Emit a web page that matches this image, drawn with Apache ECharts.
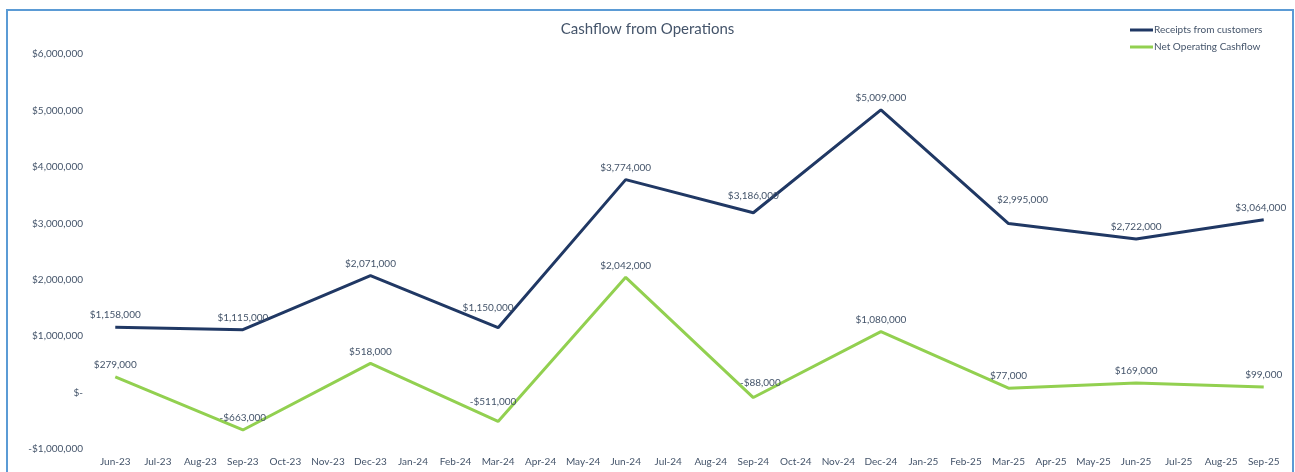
<!DOCTYPE html>
<html>
<head>
<meta charset="utf-8">
<script src="https://cdn.jsdelivr.net/npm/echarts@6/dist/echarts.min.js"></script>
<style>
  html, body { margin: 0; padding: 0; background: #fff; }
  #chart { width: 1295px; height: 472px; }
  .frame {
    position: absolute; left: 6px; top: 9px; width: 1284px; height: 480px;
    border: 2px solid #5B9BD5; pointer-events: none;
  }
</style>
</head>
<body>
<div id="chart"></div>
<div class="frame"></div>
<script>
const months = ['Jun-23','Jul-23','Aug-23','Sep-23','Oct-23','Nov-23','Dec-23','Jan-24','Feb-24','Mar-24','Apr-24','May-24',
  'Jun-24','Jul-24','Aug-24','Sep-24','Oct-24','Nov-24','Dec-24','Jan-25','Feb-25','Mar-25','Apr-25','May-25',
  'Jun-25','Jul-25','Aug-25','Sep-25'];
const receipts = [1158000,null,null,1115000,null,null,2071000,null,null,1150000,null,null,
  3774000,null,null,3186000,null,null,5009000,null,null,2995000,null,null,2722000,null,null,3064000];
const netCashflow = [279000,null,null,-663000,null,null,518000,null,null,-511000,null,null,
  2042000,null,null,-88000,null,null,1080000,null,null,77000,null,null,169000,null,null,99000];

const textColor = '#44546A';
const fontFamily = 'Lato, "Open Sans", sans-serif';

function money(v) {
  if (v === 0) return '$-';
  const s = '$' + Math.abs(v).toLocaleString('en-US');
  return v < 0 ? '-' + s : s;
}

// a few labels were nudged by hand in the original
const receiptsLabelShift = { 9: [-10, -8], 15: [0, -5], 21: [14, -12], 27: [-3, 0] };
const netLabelShift = { 9: [-5, -8], 15: [7, -3] };

function lineSeries(name, values, color, shifts) {
  return {
    name: name,
    type: 'line',
    data: values.map((v, i) => shifts[i] ? { value: v, label: { offset: shifts[i] } } : v),
    connectNulls: true,
    showSymbol: true,
    symbol: 'circle',
    symbolSize: 0.1,
    lineStyle: { width: 3, color: color },
    itemStyle: { color: color },
    label: {
      show: true, position: 'top', distance: 7,
      fontSize: 10, color: textColor,
      formatter: p => money(p.value)
    }
  };
}

let myChart = echarts.init(document.getElementById('chart'));
myChart.setOption({
  animation: false,
  backgroundColor: '#fff',
  textStyle: { fontFamily: fontFamily, color: textColor },
  title: {
    text: 'Cashflow from Operations',
    left: 'center',
    top: 17,
    textStyle: { fontSize: 15, fontWeight: 'normal', color: textColor, fontFamily: fontFamily }
  },
  legend: {
    orient: 'vertical',
    left: 1125,
    top: 20,
    itemGap: 7,
    itemWidth: 23,
    itemHeight: 3,
    icon: 'rect',
    textStyle: { fontSize: 10, color: textColor, padding: [0, 0, 0, -4] },
    data: ['Receipts from customers', 'Net Operating Cashflow']
  },
  grid: { // plot area from the picture
    left: 94,
    right: 10,
    top: 54,
    bottom: 23
  },
  xAxis: {
    type: 'category',
    data: months,
    boundaryGap: true,
    axisLine: { show: false },
    axisTick: { show: false },
    axisLabel: { interval: 0, fontSize: 10, color: textColor, margin: 8 }
  },
  yAxis: {
    type: 'value',
    min: -1000000,
    max: 6000000,
    interval: 1000000,
    splitLine: { show: false },
    axisLine: { show: false },
    axisTick: { show: false },
    axisLabel: { fontSize: 10, color: textColor, margin: 11, formatter: money }
  },
  series: [
    lineSeries('Receipts from customers', receipts, '#203864', receiptsLabelShift),
    lineSeries('Net Operating Cashflow', netCashflow, '#92D050', netLabelShift)
  ]
});
</script>
</body>
</html>
